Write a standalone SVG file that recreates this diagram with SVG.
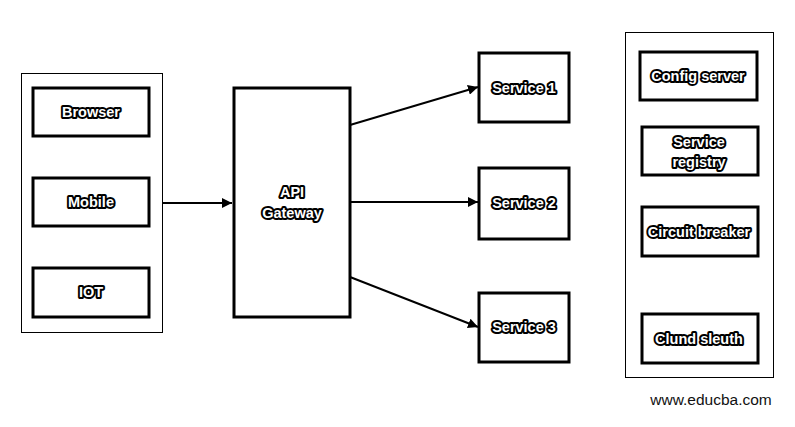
<svg xmlns="http://www.w3.org/2000/svg" width="795" height="427" viewBox="0 0 795 427">
<style>
.bg{fill:#fff}
.cont{fill:#fff;stroke:#000;stroke-width:1}
.box{fill:#fff;stroke:#000;stroke-width:3}
.lbl{font-family:"Liberation Sans",Arial,sans-serif;font-size:14.5px;font-weight:bold;fill:#fff;stroke:#000;stroke-width:4;stroke-linejoin:round;paint-order:stroke;text-anchor:middle;dominant-baseline:central}
.conn{stroke:#000;stroke-width:2;fill:none}
.wm{font-family:"Liberation Sans",Arial,sans-serif;font-size:15.5px;fill:#111;text-anchor:middle}
</style>
<defs>
<marker id="arr" viewBox="0 0 10 10" refX="10" refY="5" markerWidth="5" markerHeight="5" orient="auto" markerUnits="strokeWidth">
<path d="M0,0 L10,5 L0,10 z" fill="#000"/>
</marker>
</defs>
<rect class="bg" x="0" y="0" width="795" height="427"/>
<g id="clients">
<rect class="cont" x="21.5" y="73.5" width="141" height="259"/>
</g>
<g id="browser"><rect class="box" x="33" y="88" width="116" height="48"/><text class="lbl" x="91" y="112">Browser</text></g>
<g id="mobile"><rect class="box" x="33" y="178" width="116" height="48"/><text class="lbl" x="91" y="202">Mobile</text></g>
<g id="iot"><rect class="box" x="33" y="268" width="116" height="49"/><text class="lbl" x="91" y="292">IOT</text></g>
<g id="gateway"><rect class="box" x="234" y="88" width="116" height="229"/><text class="lbl" x="292" y="192">API</text><text class="lbl" x="292" y="213">Gateway</text></g>
<g id="service1"><rect class="box" x="479" y="53" width="90" height="69"/><text class="lbl" x="524" y="88">Service 1</text></g>
<g id="service2"><rect class="box" x="479" y="168" width="90" height="71"/><text class="lbl" x="524" y="203">Service 2</text></g>
<g id="service3"><rect class="box" x="479" y="293" width="90" height="69"/><text class="lbl" x="524" y="327">Service 3</text></g>
<g id="infra"><rect class="cont" x="625.5" y="32.5" width="148" height="345"/></g>
<g id="config"><rect class="box" x="640" y="52" width="117" height="48"/><text class="lbl" x="698" y="76">Config server</text></g>
<g id="registry"><rect class="box" x="642" y="127" width="116" height="48"/><text class="lbl" x="699" y="142">Service</text><text class="lbl" x="699" y="162">registry</text></g>
<g id="circuit"><rect class="box" x="642" y="207" width="116" height="49"/><text class="lbl" x="699" y="232">Circuit breaker</text></g>
<g id="sleuth"><rect class="box" x="642" y="314" width="116" height="49"/><text class="lbl" x="699" y="339">Clund sleuth</text></g>
<g id="connectors">
<line class="conn" x1="162" y1="203" x2="232" y2="203" marker-end="url(#arr)"/>
<line class="conn" x1="350" y1="125" x2="478" y2="87" marker-end="url(#arr)"/>
<line class="conn" x1="350" y1="202" x2="478" y2="202" marker-end="url(#arr)"/>
<line class="conn" x1="350" y1="277" x2="478" y2="327" marker-end="url(#arr)"/>
</g>
<text class="wm" x="711" y="405">www.educba.com</text>
</svg>
